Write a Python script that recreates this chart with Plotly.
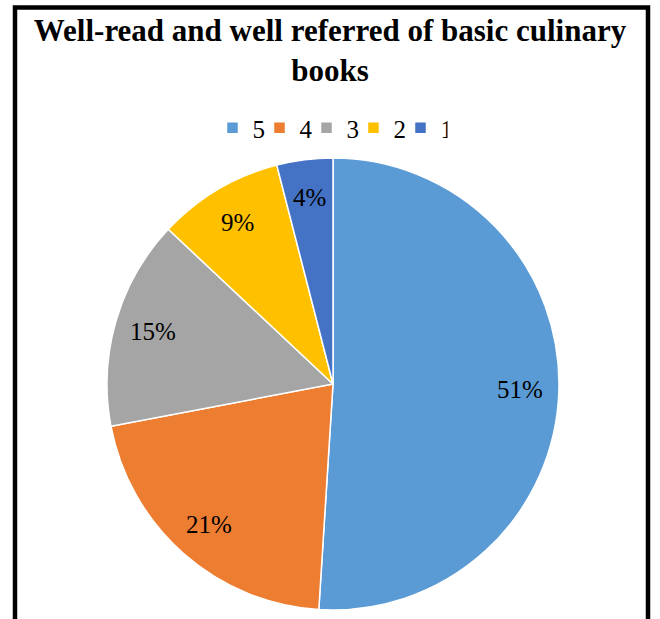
import math
import plotly.graph_objects as go

ratings = ["5", "4", "3", "2", "1"]
shares = [51, 21, 15, 9, 4]
colors = ["#5B9BD5", "#ED7D31", "#A5A5A5", "#FFC000", "#4472C4"]

W, H = 660, 619
cx, cy, r = 333, 384, 226
dom_x = [(cx - r) / W, (cx + r) / W]
dom_y = [(H - cy - r) / H, (H - cy + r) / H]

fig = go.Figure(go.Pie(
    labels=ratings, values=shares,
    sort=False, direction="clockwise", rotation=0,
    marker=dict(colors=colors, line=dict(color="white", width=1.5)),
    textinfo="none", hoverinfo="label+percent",
    domain=dict(x=dom_x, y=dom_y),
))

# percentage labels along each slice's middle angle (clockwise from 12 o'clock)
total = sum(shares)
cum = 0
for v in shares:
    mid = (cum + v / 2) / total * 2 * math.pi
    fig.add_annotation(x=0.83 * math.sin(mid), y=0.83 * math.cos(mid),
                       xref="x", yref="y", text=f"{v}%", showarrow=False,
                       font=dict(family="Liberation Serif", size=25, color="black"))
    cum += v

# chart border
fig.add_shape(type="rect", xref="paper", yref="paper",
              x0=15 / W, x1=648 / W, y0=-0.1, y1=1 - 7.5 / H,
              line=dict(color="black", width=4.5))

fig.update_layout(
    width=W, height=H,
    margin=dict(l=0, r=0, t=0, b=0),
    paper_bgcolor="white", plot_bgcolor="rgba(0,0,0,0)",
    xaxis=dict(domain=dom_x, range=[-1, 1], visible=False, fixedrange=True),
    yaxis=dict(domain=dom_y, range=[-1, 1], visible=False, fixedrange=True),
    title=dict(text="<b>Well-read and well referred of basic culinary<br>books</b>",
               x=0.5, xanchor="center", y=1 - 41 / H, yanchor="top",
               font=dict(family="Liberation Serif", size=31, color="black")),
    legend=dict(orientation="h", x=0.5, xanchor="center",
                y=1 - 128 / H, yanchor="middle",
                entrywidth=2, entrywidthmode="pixels",
                font=dict(family="Liberation Serif", size=25, color="black"),
                traceorder="normal"),
)

fig.write_html("out.html", config={"displayModeBar": False},
               post_script="document.body.style.margin='0';")
